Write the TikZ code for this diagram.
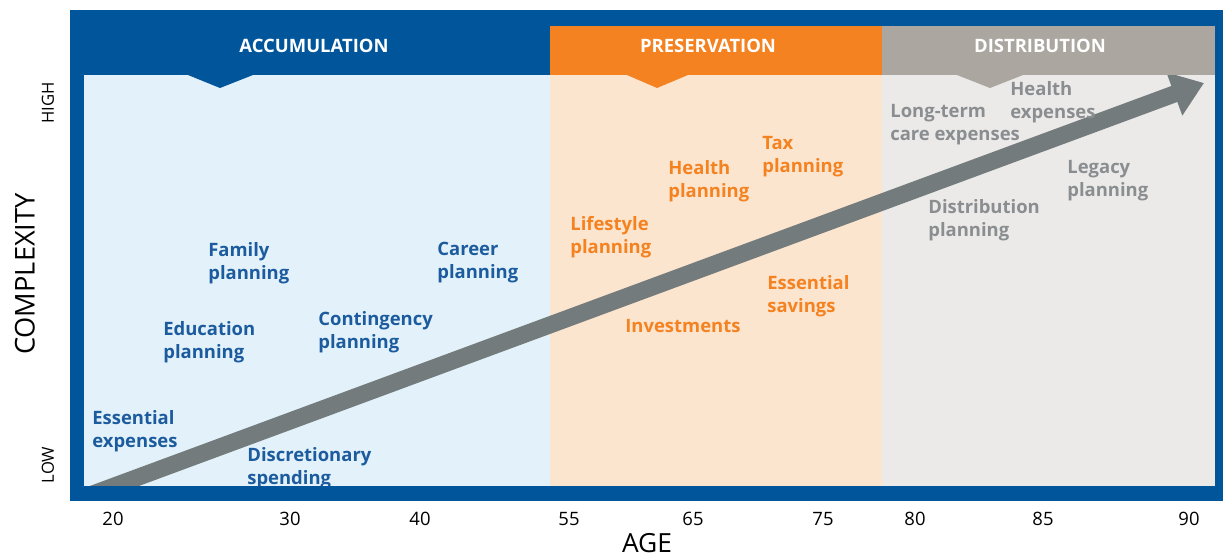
\documentclass[tikz,border=0pt]{standalone}
\usepackage{fontspec}
\setmainfont{Open Sans}
\usetikzlibrary{arrows.meta}

\definecolor{frameblue}{HTML}{00559B}
\definecolor{accbg}{HTML}{E3F2FA}
\definecolor{presbg}{HTML}{FCE5CF}
\definecolor{distbg}{HTML}{EBEAE8}
\definecolor{presorange}{HTML}{F58220}
\definecolor{distgrey}{HTML}{ABA6A0}
\definecolor{accutext}{HTML}{1C5C9E}
\definecolor{disttext}{HTML}{8A8E90}
\definecolor{growth}{HTML}{737B7C}

\begin{document}
\begin{tikzpicture}[x=0.02cm,y=-0.02cm,
  lbl/.style={anchor=north west,inner sep=0pt,align=left,font=\fontsize{10.5}{13}\selectfont\bfseries},
  accu/.style={lbl,text=accutext},
  pres/.style={lbl,text=presorange},
  dist/.style={lbl,text=disttext},
  phase/.style={text=white,inner sep=0pt,font=\fontsize{10.5}{12}\selectfont\bfseries},
  agetick/.style={inner sep=0pt,font=\fontsize{10.5}{12}\selectfont}]
\useasboundingbox (0,0) rectangle (1223,558);
% frame and phase panels
\fill[frameblue] (70,10) rectangle (1223,501);
\fill[accbg]  (84,75)  rectangle (550,486);
\fill[presbg] (550,75) rectangle (882,486);
\fill[distbg] (882,75) rectangle (1215,486);
\fill[presorange] (550,26) rectangle (882,75);
\fill[distgrey]   (882,26) rectangle (1215,75);
% tab notches
\fill[frameblue]  (188,75) -- (220,88) -- (253,75) -- cycle;
\fill[presorange] (627,75) -- (657,88) -- (688,75) -- cycle;
\fill[distgrey]   (957,75) -- (990,88) -- (1023,75) -- cycle;
% phase titles
\node[phase] (accum) at (314,46) {ACCUMULATION};
\node[phase] (preserv) at (708,46) {PRESERVATION};
\node[phase] (distrib) at (1040,46) {DISTRIBUTION};
% rising arrow
\begin{scope}
\clip (84,75) rectangle (1215,486);
\draw[growth, line width=9.7pt, -{Triangle[width=25pt,length=18pt]}] (90,495) -- (1204,83);
\end{scope}
% accumulation needs
\node[accu] (essexp) at (92,410) {Essential\\expenses};
\node[accu] (discr) at (247,447) {Discretionary\\spending};
\node[accu] (educ) at (163,321) {Education\\planning};
\node[accu] (family) at (208,242) {Family\\planning};
\node[accu] (conting) at (318,311) {Contingency\\planning};
\node[accu] (career) at (437,242) {Career\\planning};
% preservation needs
\node[pres] (lifestyle) at (570,216) {Lifestyle\\planning};
\node[pres] (health) at (668,160) {Health\\planning};
\node[pres] (tax) at (762,136) {Tax\\planning};
\node[pres] (esssav) at (767,275) {Essential\\savings};
\node[pres] (invest) at (625,319) {Investments};
% distribution needs
\node[dist] (ltc) at (890,104) {Long-term\\care expenses};
\node[dist] (hexp) at (1010,81) {Health\\expenses};
\node[dist] (legacy) at (1067,160) {Legacy\\planning};
\node[dist] (distplan) at (928,199) {Distribution\\planning};
% bottom bar over the descenders
\fill[frameblue] (70,486) rectangle (1223,501);
% axes
\node[rotate=90, inner sep=0pt, font=\fontsize{9.5}{11}\selectfont] (high) at (48,103) {HIGH};
\node[rotate=90, inner sep=0pt, font=\fontsize{9.5}{11}\selectfont] (low) at (48,465) {LOW};
\node[rotate=90, inner sep=0pt, font=\fontsize{15.5}{16}\selectfont] (cplx) at (25,274) {COMPLEXITY};
\node[inner sep=0pt, font=\fontsize{15}{16}\selectfont] (age) at (647,543) {AGE};
\foreach \a/\px in {20/113,30/290,40/420,55/569,65/693,75/823,80/915,85/1043,90/1189}
  \node[agetick] (t\a) at (\px,519) {\a};
\end{tikzpicture}
\end{document}
